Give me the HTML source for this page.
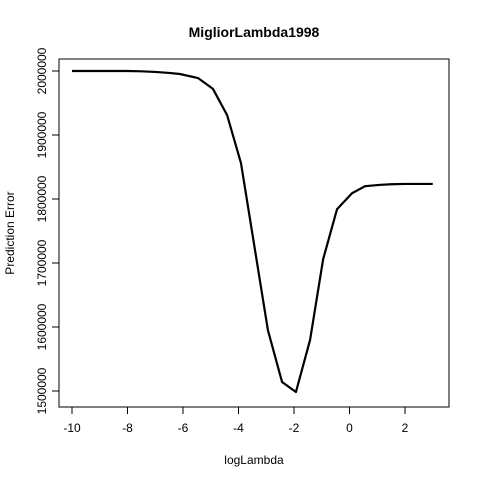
<!DOCTYPE html>
<html><head><meta charset="utf-8"><style>body{margin:0;background:#fff}svg{display:block;font-family:"Liberation Sans",Arial,sans-serif}</style></head>
<body>
<svg id="c" width="480" height="480" xmlns="http://www.w3.org/2000/svg"></svg>
<script>
const xVals=[-10,-9,-8,-7.5,-7,-6.5,-6.11,-5.46,-4.92,-4.41,-3.91,-2.94,-2.43,-1.93,-1.42,-0.95,-0.45,0.09,0.56,1.06,1.5,2,2.5,3];
const yVals=[2000000,2000000,2000000,1999500,1998500,1997000,1995300,1989000,1972000,1931000,1856000,1595000,1514000,1498400,1580000,1706000,1784000,1809000,1820000,1822000,1823000,1823500,1823500,1823500];
const xTicks=[-10,-8,-6,-4,-2,0,2];
const yTicks=[1500000,1600000,1700000,1800000,1900000,2000000];
const svg=document.getElementById('c');const NS='http://www.w3.org/2000/svg';
const sx=v=>72+(v+10)*27.75, sy=v=>71+(2000000-v)*0.00064;
function mk(t,a,p){const e=document.createElementNS(NS,t);for(const k in a)e.setAttribute(k,a[k]);(p||svg).appendChild(e);return e;}
const box=mk('rect',{x:59,y:59,width:390,height:348,fill:'none',stroke:'#000','stroke-width':1});


const t=mk('text',{x:254,y:37,'text-anchor':'middle','font-size':14,'font-weight':'bold'});t.textContent='MigliorLambda1998';


const xl=mk('text',{x:254,y:464,'text-anchor':'middle','font-size':12});xl.textContent='logLambda';


const yl=mk('text',{x:14,y:233,'text-anchor':'middle','font-size':12,transform:'rotate(-90 14 233)'});yl.textContent='Prediction Error';


mk('line',{x1:sx(-10),x2:sx(2),y1:407,y2:407,stroke:'#000'});
xTicks.forEach(v=>{mk('line',{x1:sx(v),x2:sx(v),y1:407,y2:414,stroke:'#000'});
const e=mk('text',{x:sx(v),y:432,'text-anchor':'middle','font-size':12});e.textContent=v;

});
mk('line',{x1:59,x2:59,y1:sy(1500000),y2:sy(2000000),stroke:'#000'});
yTicks.forEach(v=>{mk('line',{x1:52,x2:59,y1:sy(v),y2:sy(v),stroke:'#000'});
const e=mk('text',{x:46,y:sy(v),'text-anchor':'middle','font-size':12,transform:`rotate(-90 46 ${sy(v)})`});e.textContent=v;

});
const ln=mk('polyline',{points:xVals.map((x,i)=>sx(x)+','+sy(yVals[i])).join(' '),fill:'none',stroke:'#000','stroke-width':2.2,'stroke-linejoin':'round'});


</script>
</body></html>
